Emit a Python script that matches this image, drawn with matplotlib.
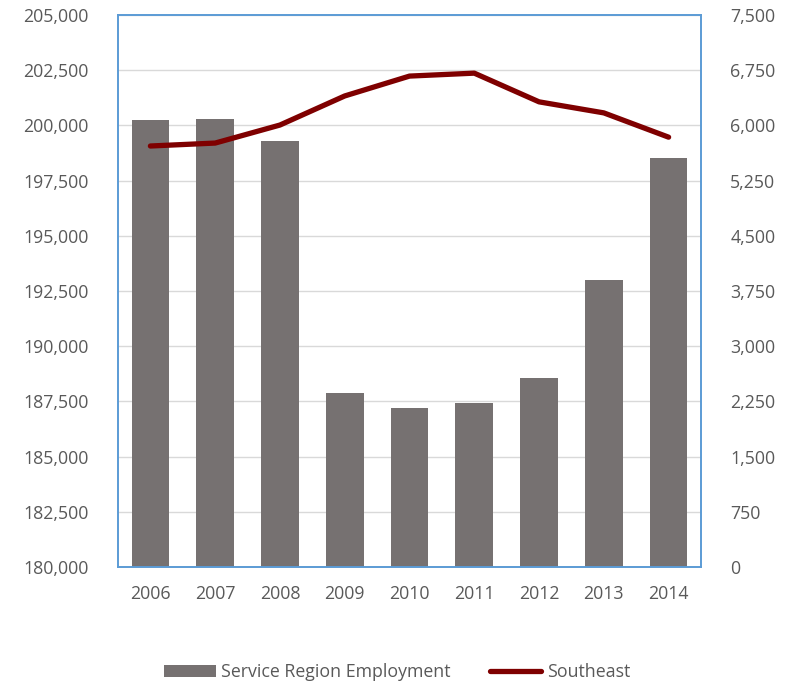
import numpy as np
import matplotlib.pyplot as plt
from matplotlib.ticker import FuncFormatter

# data
years = ['2006', '2007', '2008', '2009', '2010', '2011', '2012', '2013', '2014']
service_emp = [200250, 200290, 199290, 187880, 187200, 187430, 188560, 193000, 198520]
southeast = [5720, 5760, 6005, 6400, 6670, 6710, 6320, 6170, 5840]

plt.rcParams['font.family'] = ['Open Sans', 'DejaVu Sans']
txt = '#595959'
blue = '#5B9BD5'
fs = 12.8

fig = plt.figure(figsize=(7.94, 6.85), dpi=100)
ax = fig.add_axes([118/794, 1-567/685, (701-118)/794, (567-15)/685])
ax2 = ax.twinx()

x = np.arange(len(years))
bars = ax.bar(x, service_emp, width=0.58, color='#767171', zorder=2,
              label='Service Region Employment')
line, = ax2.plot(x, southeast, color='#7F0000', lw=3.8, solid_capstyle='round',
                 label='Southeast')

ax.set_xlim(-0.5, len(years) - 0.5)
ax.set_ylim(180000, 205000)
ax.set_yticks(np.arange(180000, 205001, 2500))
ax2.set_ylim(0, 7500)
ax2.set_yticks(np.arange(0, 7501, 750))
fmt = FuncFormatter(lambda v, p: f'{int(v):,}')
ax.yaxis.set_major_formatter(fmt)
ax2.yaxis.set_major_formatter(fmt)
ax.set_xticks(x)
ax.set_xticklabels(years)

ax.grid(axis='y', color='#D9D9D9', lw=1, zorder=0)
ax.set_axisbelow(True)

for a in (ax, ax2):
    for s in a.spines.values():
        s.set_color(blue)
        s.set_linewidth(1.2)
    a.tick_params(length=0, labelsize=fs, labelcolor=txt)
ax.tick_params(axis='y', pad=21)
ax2.tick_params(axis='y', pad=21)
ax.tick_params(axis='x', pad=13)

fig.legend([bars, line], ['Service Region Employment', 'Southeast'],
           loc='center', bbox_to_anchor=(0.5, 1-672/685), ncol=2, frameon=False,
           fontsize=fs, labelcolor=txt, handlelength=2.9, handletextpad=0.3,
           columnspacing=2.2)

fig.savefig('out.png', dpi=100)
